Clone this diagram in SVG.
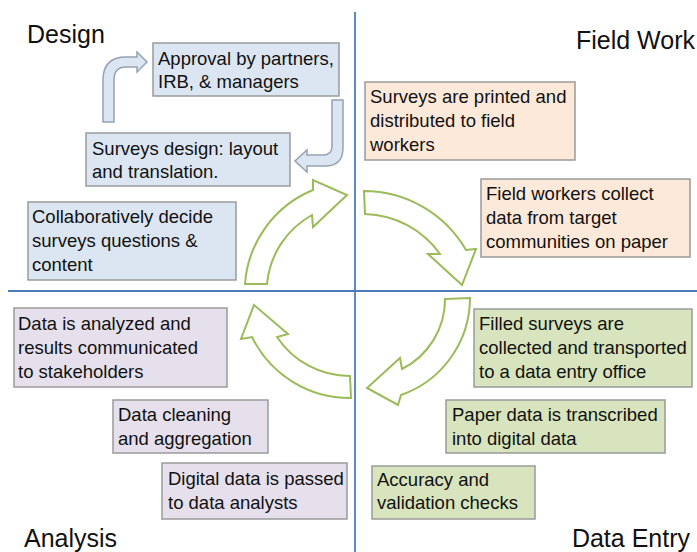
<svg xmlns="http://www.w3.org/2000/svg" width="697" height="552" viewBox="0 0 697 552">
<style>
.t{font-family:"Liberation Sans",Arial,sans-serif;font-size:18.5px;fill:#111}
.h{font-family:"Liberation Sans",Arial,sans-serif;font-size:25px;fill:#111}
.bx{stroke:#9a9a9a;stroke-width:1.5}
.blue{fill:#dce6f2}
.orange{fill:#fde9d9}
.purple{fill:#e5e0ec}
.green{fill:#d7e4bd}
.ax{stroke:#4a7ebb;stroke-width:1.8;fill:none}
.ca{fill:#fff;stroke:#9bbb59;stroke-width:2;stroke-linejoin:miter}
.ba{fill:#dce6f2;stroke:#95a3b3;stroke-width:1.5}
</style>
<rect width="697" height="552" fill="#fff"/>
<g id="axes">
<line class="ax" x1="355" y1="12" x2="355" y2="552"/>
<line class="ax" x1="8" y1="291" x2="697" y2="291"/>
</g>
<g id="titles">
<text class="h" x="27" y="43">Design</text>
<text class="h" x="695" y="49" text-anchor="end">Field Work</text>
<text class="h" x="24" y="547">Analysis</text>
<text class="h" x="690" y="547" text-anchor="end">Data Entry</text>
</g>
<g id="connectors">
<path class="ca" d="M245,284 A110 110 0 0 1 313,190 L313,180 L347,195 L313,227 L312,215 A88 88 0 0 0 267,284 Z"/>
<path class="ca" d="M364,191 A118 118 0 0 1 466,250 L476,249 L462,285 L428,254 L440,254 A95 95 0 0 0 365,214 Z"/>
<path class="ca" d="M445,299 L470,298 A103 103 0 0 1 401,395 L398,405 L367,388 L400,358 L402,369 A78 78 0 0 0 445,299 Z"/>
<path class="ca" d="M351,398 L350,376 A87 87 0 0 1 277,337 L288,334 L254,305 L241,339 L252,337 A109 109 0 0 0 351,398 Z"/>
<path class="ba" d="M103,122 L103,80 Q103,57 126,57 L137,57 L137,52 L147,62 L137,72 L137,67 L126,67 Q114,67 114,80 L114,122 Z"/>
<path class="ba" d="M332,100 L343,100 L343,148 Q343,166 325,166 L307,166 L307,172 L295,161 L307,150 L307,155 L323,155 Q332,155 332,146 Z"/>
</g>
<g id="approval">
<rect class="bx blue" x="153" y="43" width="186" height="53"/>
<text class="t" x="158" y="65">Approval by partners,</text>
<text class="t" x="158" y="88">IRB, &amp; managers</text>
</g>
<g id="surveys-design">
<rect class="bx blue" x="86" y="133" width="204" height="53"/>
<text class="t" x="92" y="155">Surveys design: layout</text>
<text class="t" x="92" y="178">and translation.</text>
</g>
<g id="collaboratively">
<rect class="bx blue" x="28" y="202" width="208" height="78"/>
<text class="t" x="32" y="223">Collaboratively decide</text>
<text class="t" x="32" y="247">surveys questions &amp;</text>
<text class="t" x="32" y="271">content</text>
</g>
<g id="printed">
<rect class="bx orange" x="365" y="82" width="210" height="78"/>
<text class="t" x="370" y="103">Surveys are printed and</text>
<text class="t" x="370" y="127">distributed to field</text>
<text class="t" x="370" y="151">workers</text>
</g>
<g id="collect">
<rect class="bx orange" x="481" y="179" width="209" height="78"/>
<text class="t" x="486" y="200">Field workers collect</text>
<text class="t" x="486" y="224">data from target</text>
<text class="t" x="486" y="248">communities on paper</text>
</g>
<g id="filled">
<rect class="bx green" x="474" y="309" width="218" height="78"/>
<text class="t" x="479" y="330">Filled surveys are</text>
<text class="t" x="479" y="354">collected and transported</text>
<text class="t" x="479" y="378">to a data entry office</text>
</g>
<g id="transcribed">
<rect class="bx green" x="446" y="400" width="219" height="53"/>
<text class="t" x="452" y="421">Paper data is transcribed</text>
<text class="t" x="452" y="445">into digital data</text>
</g>
<g id="accuracy">
<rect class="bx green" x="372" y="466" width="163" height="53"/>
<text class="t" x="377" y="486">Accuracy and</text>
<text class="t" x="377" y="509">validation checks</text>
</g>
<g id="analyzed">
<rect class="bx purple" x="14" y="308" width="213" height="79"/>
<text class="t" x="18" y="330">Data is analyzed and</text>
<text class="t" x="18" y="354">results communicated</text>
<text class="t" x="18" y="378">to stakeholders</text>
</g>
<g id="cleaning">
<rect class="bx purple" x="113" y="400" width="155" height="53"/>
<text class="t" x="118" y="421">Data cleaning</text>
<text class="t" x="118" y="445">and aggregation</text>
</g>
<g id="passed">
<rect class="bx purple" x="162" y="463" width="185" height="56"/>
<text class="t" x="168" y="485">Digital data is passed</text>
<text class="t" x="168" y="509">to data analysts</text>
</g>
</svg>
